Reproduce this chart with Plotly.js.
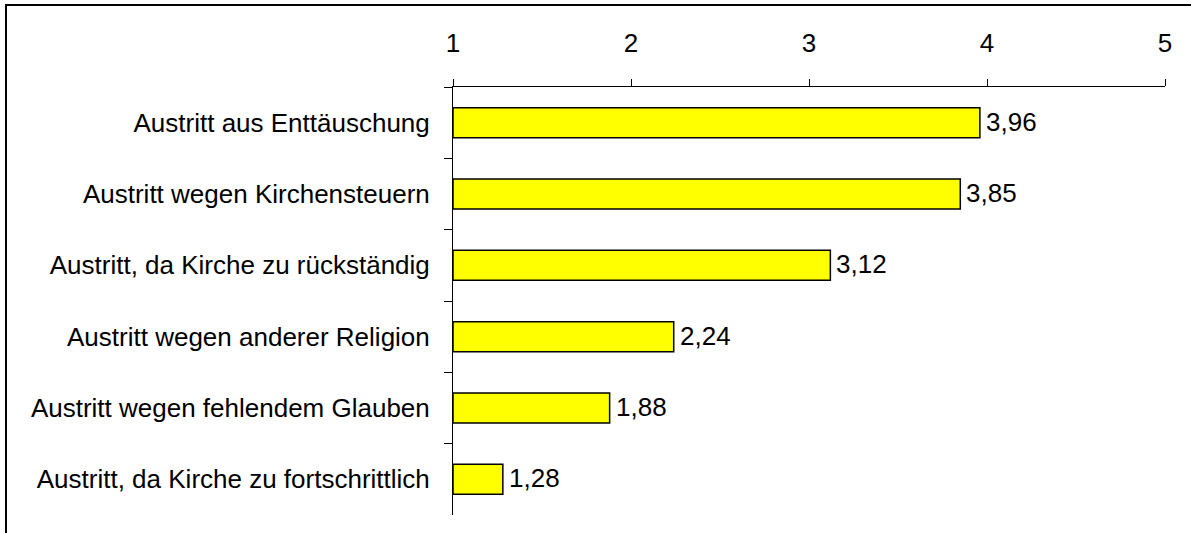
<!DOCTYPE html>
<html><head><meta charset="utf-8">
<script src="https://cdn.plot.ly/plotly-3.0.1.min.js"></script>
<style>html,body{margin:0;padding:0;background:#fff;}#frame{position:absolute;left:5px;top:4px;width:1186px;height:529px;border-left:2px solid #000;border-top:2px solid #000;box-sizing:border-box;}#chart{position:absolute;left:0;top:0;width:1191px;height:533px;}</style>
</head><body>
<div id="frame"></div>
<div id="chart"></div>
<script>
const categories = [
  "Austritt aus Enttäuschung",
  "Austritt wegen Kirchensteuern",
  "Austritt, da Kirche zu rückständig",
  "Austritt wegen anderer Religion",
  "Austritt wegen fehlendem Glauben",
  "Austritt, da Kirche zu fortschrittlich"
];
const values = [3.96, 3.85, 3.12, 2.24, 1.88, 1.28];
const tickVals = [1, 2, 3, 4, 5];

function mkFont() { return {family: "Liberation Sans, Arial, sans-serif", size: 26, color: "#000"}; }

const annotations = values.map((v, i) => ({
  x: v, y: categories[i], xref: "x", yref: "y",
  text: v.toFixed(2).replace(".", ","),
  showarrow: false, xanchor: "left", yanchor: "middle",
  xshift: 4, yshift: 1, font: mkFont()
}));

Plotly.newPlot("chart", [{
  type: "bar",
  orientation: "h",
  y: categories,
  x: values.map(v => v - 1),
  base: 1,
  width: 0.42,
  marker: {color: "#FFFF00", line: {color: "#000", width: 1.5}},
  hoverinfo: "none"
}], {
  width: 1191, height: 533,
  margin: {l: 453, r: 26, t: 87, b: 18, pad: 0},
  paper_bgcolor: "rgba(0,0,0,0)",
  plot_bgcolor: "rgba(0,0,0,0)",
  font: mkFont(),
  showlegend: false,
  annotations: annotations,
  xaxis: {
    side: "top", range: [1, 5], tickvals: tickVals, ticktext: tickVals.map(String),
    showgrid: false, zeroline: false, showline: true, linecolor: "#000", linewidth: 1,
    ticks: "outside", ticklen: 7, tickcolor: "#000", tickwidth: 1,
    ticklabelstandoff: 17, tickfont: mkFont()
  },
  yaxis: {
    autorange: "reversed", type: "category",
    showgrid: false, zeroline: false, showline: true, linecolor: "#000", linewidth: 1,
    ticks: "outside", tickson: "boundaries", ticklen: 8, tickcolor: "#000", tickwidth: 1,
    ticklabelstandoff: 17, tickfont: mkFont()
  }
}, {staticPlot: true});
</script>
</body></html>
